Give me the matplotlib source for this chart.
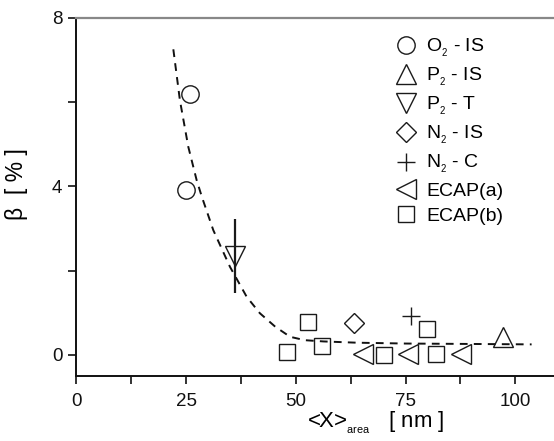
import matplotlib
matplotlib.use("Agg")
import matplotlib.pyplot as plt
from matplotlib.ticker import MultipleLocator

plt.rcParams['font.family'] = ['Liberation Sans', 'DejaVu Sans']
plt.rcParams['mathtext.fontset'] = 'custom'
plt.rcParams['mathtext.rm'] = 'Liberation Sans'
plt.rcParams['mathtext.it'] = 'Liberation Sans'

# Measured broadening vs. mean area-weighted crystallite size
o2_is_x = [25.9, 25.0]
o2_is_y = [6.2, 3.91]

p2_is_x = [97.1]
p2_is_y = [0.43]

p2_t_x = [36.2]
p2_t_y = [2.35]
p2_t_err = [0.87]

n2_is_x = [63.3]
n2_is_y = [0.75]

n2_c_x = [76.2]
n2_c_y = [0.93]

ecap_a_x = [65.4, 75.6, 87.6]
ecap_a_y = [0.03, 0.03, 0.03]

ecap_b_x = [48.0, 52.7, 55.9, 70.0, 79.8, 81.9]
ecap_b_y = [0.08, 0.77, 0.21, 0.0, 0.62, 0.02]

# Fitted trend curve
fit_x = [22.1, 23.6, 25.5, 27.4, 28.6, 31.2, 35.0, 38.8, 41.8, 45.3, 48.7,
         52.0, 56.3, 63.9, 75.0, 90.0, 103.7]
fit_y = [7.25, 6.04, 4.94, 4.15, 3.75, 2.96, 2.09, 1.38, 0.99, 0.67, 0.43,
         0.35, 0.32, 0.29, 0.27, 0.26, 0.25]

labels = [r'O$_{_2}$ - IS', r'P$_{_2}$ - IS', r'P$_{_2}$ - T', r'N$_{_2}$ - IS',
          r'N$_{_2}$ - C', 'ECAP(a)', 'ECAP(b)']

fig = plt.figure(figsize=(5.54, 4.41), dpi=100)
ax = fig.add_axes([76.3 / 554, 65 / 441, (554 - 76.3) / 554, (376 - 17.7) / 441])

ec = '#1a1a1a'
mk = dict(linestyle='none', mfc='none', mec=ec, mew=1.0)

ax.plot(fit_x, fit_y, color='#111111', lw=1.4, linestyle=(0, (4, 3.2)))

h1, = ax.plot(o2_is_x, o2_is_y, marker='o', ms=12.5, **mk)
h2, = ax.plot(p2_is_x, p2_is_y, marker='^', ms=14, **mk)
ax.errorbar(p2_t_x, p2_t_y, yerr=p2_t_err, fmt='none', ecolor=ec, elinewidth=1.6, capsize=0)
h3, = ax.plot(p2_t_x, p2_t_y, marker='v', ms=14, **mk)
h4, = ax.plot(n2_is_x, n2_is_y, marker='D', ms=10.5, **mk)
h5, = ax.plot(n2_c_x, n2_c_y, marker='+', ms=13, **mk)
h6, = ax.plot(ecap_a_x, ecap_a_y, marker='<', ms=14, **mk)
h7, = ax.plot(ecap_b_x, ecap_b_y, marker='s', ms=11, **mk)

ax.set_xlim(0, 108.8)
ax.set_ylim(-0.5, 8)

ax.xaxis.set_major_locator(MultipleLocator(25))
ax.xaxis.set_minor_locator(MultipleLocator(12.5))
ax.yaxis.set_major_locator(MultipleLocator(4))
ax.yaxis.set_minor_locator(MultipleLocator(2))
ax.tick_params(which='both', direction='out', length=6, width=1.2, colors='#111111',
               labelsize=13.5)
ax.tick_params(axis='x', pad=6)
ax.tick_params(axis='y', pad=4)
ax.tick_params(which='minor', labelleft=False, labelbottom=False)

for s in ('left', 'bottom'):
    ax.spines[s].set_linewidth(1.4)
    ax.spines[s].set_color('#111111')
ax.spines['top'].set_color('#888888')
ax.spines['top'].set_linewidth(1.6)
ax.spines['right'].set_visible(False)

ax.set_ylabel('β  [ % ]', fontsize=16.5)
ax.yaxis.set_label_coords(-0.101, 0.535)
ax.set_xlabel(r'<X>$_{_{\mathrm{area}}}$   [ nm ]', fontsize=16)
ax.xaxis.set_label_coords(0.627, -0.095)

leg = ax.legend([h1, h2, h3, h4, h5, h6, h7], labels, frameon=False,
                loc='upper left', bbox_to_anchor=(394 / 554, 1 - 37 / 441),
                bbox_transform=fig.transFigure, fontsize=14,
                labelspacing=0.36, handlelength=1.2, handletextpad=0.45,
                borderpad=0, borderaxespad=0)

fig.savefig('out.png', dpi=100)
